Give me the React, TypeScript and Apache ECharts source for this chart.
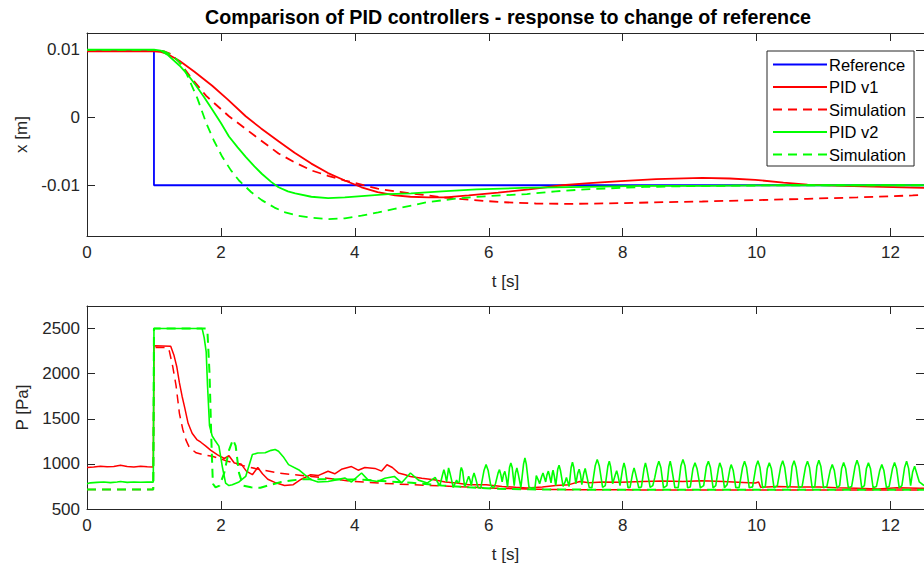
import React, { useEffect, useRef } from "react";
import * as echarts from "echarts";

// ---------- data ----------
const tTicks = [0, 2, 4, 6, 8, 10, 12];
const xTicks = [-0.01, 0, 0.01];
const pTicks = [500, 1000, 1500, 2000, 2500];

// top: position x [m] over time t [s]
const refX: [number, number][] = [[0, 0.01], [1, 0.01], [1, -0.01], [12.5, -0.01]];
const pidV1X: [number, number][] = [
  [0, 0.0098], [1.0, 0.0098], [1.1, 0.0097], [1.2, 0.0094], [1.38, 0.0084], [1.6, 0.0068], [1.87, 0.0047],
  [2.1, 0.0027], [2.37, 0.0002], [2.6, -0.0016], [2.86, -0.0035], [3.1, -0.0052], [3.35, -0.0068],
  [3.6, -0.0082], [3.85, -0.0093], [4.1, -0.0103], [4.34, -0.011], [4.6, -0.0115], [4.83, -0.0117],
  [5.1, -0.0118], [5.35, -0.0118], [5.7, -0.0115], [6.14, -0.0111], [6.6, -0.0106], [7.1, -0.01],
  [7.5, -0.0097], [7.97, -0.0094], [8.5, -0.0091], [9.19, -0.0089], [9.6, -0.009], [9.98, -0.0092],
  [10.4, -0.0096], [10.76, -0.0099], [11.3, -0.0101], [12.33, -0.01035], [12.5, -0.0104],
];
const simV1X: [number, number][] = [
  [0, 0.01], [1.0, 0.01], [1.15, 0.0098], [1.25, 0.0094], [1.38, 0.0082], [1.53, 0.0062], [1.78, 0.0032],
  [2.12, 0.0002], [2.52, -0.0028], [2.86, -0.0053], [3.1, -0.0066], [3.35, -0.0078], [3.6, -0.0086],
  [3.85, -0.0093], [4.1, -0.0099], [4.34, -0.0105], [4.6, -0.0109], [4.84, -0.0112], [5.08, -0.0115],
  [5.33, -0.0118], [5.77, -0.0122], [6.2, -0.0125], [6.7, -0.0127], [7.2, -0.01275], [7.97, -0.01265],
  [8.6, -0.0125], [9.19, -0.0124], [10.0, -0.0122], [10.76, -0.012], [11.5, -0.0118], [12.33, -0.0115],
  [12.5, -0.0114],
];
const pidV2X: [number, number][] = [
  [0, 0.01005], [1.0, 0.01005], [1.1, 0.0099], [1.2, 0.0093], [1.38, 0.0077], [1.5, 0.0064], [1.63, 0.0047],
  [1.75, 0.003], [1.87, 0.0012], [2.0, -0.0008], [2.12, -0.0028], [2.25, -0.0044], [2.37, -0.0058],
  [2.5, -0.0072], [2.61, -0.0083], [2.75, -0.0095], [2.86, -0.0103], [3.0, -0.0109], [3.11, -0.0112],
  [3.35, -0.0117], [3.6, -0.0119], [3.85, -0.0118], [4.1, -0.0116], [4.5, -0.0113], [4.84, -0.0112],
  [5.3, -0.0109], [5.82, -0.0106], [6.5, -0.0104], [7.44, -0.01025], [8.3, -0.0101], [9.19, -0.0101],
  [10.5, -0.01], [12.5, -0.01],
];
const simV2X: [number, number][] = [
  [0, 0.01], [1.0, 0.01], [1.15, 0.0098], [1.25, 0.0093], [1.35, 0.0085], [1.43, 0.0077], [1.53, 0.0055],
  [1.65, 0.0028], [1.78, -0.0008], [1.9, -0.0035], [2.02, -0.0058], [2.15, -0.0078], [2.27, -0.0093],
  [2.45, -0.011], [2.61, -0.0122], [2.8, -0.0133], [2.96, -0.014], [3.15, -0.0145], [3.35, -0.0148],
  [3.6, -0.015], [3.85, -0.0149], [4.1, -0.0145], [4.35, -0.014], [4.59, -0.0135], [4.85, -0.013],
  [5.08, -0.0125], [5.33, -0.0122], [5.58, -0.0119], [6.0, -0.0116], [6.57, -0.0113], [7.0, -0.0109],
  [7.44, -0.0106], [8.32, -0.01025], [9.2, -0.0101], [10.5, -0.01], [12.5, -0.01],
];

// bottom: pressure P [Pa] over time t [s]
const pidV1P: [number, number][] = [
  [0, 960], [0.1, 965], [0.2, 975], [0.3, 968], [0.4, 972], [0.5, 985], [0.6, 970], [0.7, 966], [0.8, 975],
  [0.9, 968], [0.99, 965], [1.0, 2310], [1.25, 2305], [1.3, 2200], [1.34, 2080], [1.38, 1900], [1.42, 1750],
  [1.46, 1620], [1.51, 1450], [1.57, 1340], [1.64, 1270], [1.7, 1240], [1.77, 1200], [1.85, 1150],
  [1.95, 1100], [2.05, 1060], [2.12, 1090], [2.2, 1010], [2.3, 1000], [2.38, 920], [2.47, 880], [2.55, 960],
  [2.62, 890], [2.7, 830], [2.82, 790], [2.95, 760], [3.08, 770], [3.2, 830], [3.34, 880], [3.45, 870],
  [3.6, 918], [3.7, 890], [3.8, 940], [3.95, 970], [4.05, 930], [4.15, 960], [4.3, 950], [4.4, 920],
  [4.48, 990], [4.56, 960], [4.65, 900], [4.75, 880], [4.83, 860], [5.0, 840], [5.18, 825], [5.35, 800],
  [5.52, 788], [5.7, 770], [5.96, 770], [6.2, 750], [6.4, 740], [6.57, 733], [6.8, 745], [7.0, 760],
  [7.2, 770], [7.36, 805], [7.5, 790], [7.7, 800], [7.97, 796], [8.3, 805], [8.6, 810], [8.9, 805],
  [9.19, 814], [9.5, 805], [9.8, 795], [9.98, 788], [10.03, 800], [10.06, 740], [10.3, 750], [10.6, 745],
  [10.94, 744], [11.2, 735], [11.5, 730], [11.81, 722], [12.1, 735], [12.43, 729], [12.5, 730],
];
const simV1P: [number, number][] = [
  [0, 715], [0.99, 715], [1.0, 2290], [1.2, 2290], [1.23, 2250], [1.28, 2080], [1.33, 1868], [1.38, 1560],
  [1.43, 1384], [1.48, 1260], [1.53, 1180], [1.63, 1123], [1.75, 1100], [1.87, 1085], [2.1, 1030],
  [2.37, 973], [2.6, 935], [2.86, 899], [3.1, 880], [3.35, 861], [3.65, 835], [3.95, 807], [4.4, 785],
  [4.83, 770], [5.3, 755], [5.7, 744], [6.1, 730], [6.57, 722], [7.0, 715], [8.0, 712], [12.5, 710],
];
const pidV2P: [number, number][] = [
  [0, 780], [0.05, 790], [0.15, 795], [0.25, 800], [0.35, 792], [0.45, 800], [0.5, 805], [0.6, 795],
  [0.7, 800], [0.8, 797], [0.9, 800], [0.99, 798], [1.0, 2500], [1.72, 2500], [1.75, 2400], [1.78, 2242],
  [1.8, 1868], [1.83, 1421], [1.87, 1309], [1.92, 1250], [1.97, 1197], [2.02, 973], [2.07, 787],
  [2.12, 760], [2.17, 768], [2.27, 800], [2.37, 861], [2.47, 1104], [2.55, 1120], [2.66, 1123],
  [2.75, 1150], [2.81, 1160], [2.86, 1141], [2.93, 1080], [3.01, 992], [3.16, 936], [3.25, 880],
  [3.35, 824], [3.45, 800], [3.6, 805], [3.7, 820], [3.85, 843], [3.95, 800], [4.1, 899], [4.2, 820],
  [4.34, 805], [4.45, 840], [4.59, 861], [4.7, 790], [4.83, 899], [4.95, 820], [5.08, 787],
  [5.2, 850], [5.24, 790], [5.27, 760], [5.31, 880], [5.33, 936], [5.35, 880], [5.37, 800], [5.39, 900],
  [5.4, 955], [5.42, 900], [5.47, 740], [5.5, 790], [5.52, 820], [5.54, 790], [5.56, 800], [5.58, 930],
  [5.59, 960], [5.61, 920], [5.64, 745], [5.67, 800], [5.7, 862], [5.72, 820], [5.74, 760], [5.76, 850],
  [5.78, 900], [5.8, 850], [5.84, 735], [5.88, 731], [5.93, 930], [5.96, 992], [5.99, 930], [6.03, 760],
  [6.07, 731], [6.1, 780], [6.14, 900], [6.16, 936], [6.18, 880], [6.2, 800], [6.22, 880], [6.24, 917],
  [6.26, 850], [6.28, 745], [6.31, 960], [6.33, 1011], [6.35, 960], [6.38, 760], [6.4, 900], [6.42, 955],
  [6.44, 890], [6.48, 738], [6.52, 1000], [6.54, 1067], [6.56, 1000], [6.6, 745], [6.64, 731], [6.69, 731],
  [6.71, 870], [6.74, 820], [6.76, 780], [6.79, 860], [6.81, 900], [6.83, 850], [6.85, 800], [6.87, 880],
  [6.89, 920], [6.91, 860], [6.93, 790], [6.95, 900], [6.96, 930], [6.98, 860], [7.0, 760], [7.03, 940],
  [7.05, 985], [7.07, 930], [7.11, 750], [7.14, 800], [7.16, 850], [7.18, 800], [7.2, 750], [7.23, 960],
  [7.25, 1020], [7.27, 960], [7.3, 780], [7.33, 900], [7.35, 940], [7.37, 880], [7.39, 770], [7.42, 900],
  [7.44, 950], [7.46, 880], [7.5, 740], [7.54, 735], [7.59, 980], [7.62, 1050], [7.65, 980], [7.7, 740],
  [7.74, 760], [7.78, 980], [7.8, 1030], [7.82, 970], [7.85, 780], [7.89, 880], [7.91, 925], [7.93, 870],
  [7.96, 760], [8.0, 950], [8.02, 1010], [8.04, 950], [8.08, 735], [8.11, 740], [8.15, 900], [8.17, 955],
  [8.19, 900], [8.24, 735], [8.28, 745], [8.32, 950], [8.34, 1010], [8.36, 950], [8.41, 740], [8.45, 760],
  [8.48, 850], [8.51, 960], [8.54, 1029], [8.57, 960], [8.61, 735], [8.66, 760], [8.69, 970], [8.71, 1029],
  [8.73, 960], [8.78, 735], [8.83, 740], [8.87, 980], [8.9, 1048], [8.93, 980], [8.97, 735], [9.01, 745],
  [9.05, 950], [9.08, 1011], [9.11, 950], [9.16, 735], [9.21, 760], [9.25, 970], [9.28, 1029], [9.31, 960],
  [9.35, 735], [9.39, 760], [9.43, 950], [9.45, 1011], [9.48, 950], [9.52, 735], [9.56, 770], [9.6, 940],
  [9.62, 992], [9.65, 930], [9.69, 735], [9.74, 740], [9.79, 960], [9.82, 1029], [9.85, 960], [9.89, 735],
  [9.94, 745], [9.99, 970], [10.02, 1035], [10.05, 960], [10.09, 735], [10.13, 750], [10.16, 950],
  [10.19, 1011], [10.22, 950], [10.26, 735], [10.31, 760], [10.36, 970], [10.39, 1035], [10.42, 960],
  [10.46, 735], [10.5, 760], [10.53, 970], [10.56, 1035], [10.59, 960], [10.63, 735], [10.68, 750],
  [10.73, 965], [10.76, 1029], [10.79, 960], [10.83, 735], [10.87, 750], [10.9, 970], [10.93, 1040],
  [10.96, 970], [11.0, 735], [11.05, 750], [11.1, 930], [11.13, 992], [11.16, 930], [11.2, 735],
  [11.24, 760], [11.27, 950], [11.3, 1015], [11.33, 950], [11.37, 735], [11.42, 750], [11.47, 970],
  [11.5, 1040], [11.53, 970], [11.57, 735], [11.61, 760], [11.64, 950], [11.67, 1011], [11.7, 950],
  [11.74, 735], [11.79, 750], [11.84, 930], [11.87, 992], [11.9, 930], [11.94, 735], [11.98, 750],
  [12.03, 950], [12.06, 1015], [12.09, 950], [12.13, 735], [12.17, 760], [12.21, 960], [12.24, 1029],
  [12.27, 950], [12.3, 760], [12.33, 910], [12.36, 973], [12.39, 900], [12.43, 800], [12.5, 760],
];
const simV2P: [number, number][] = [
  [0, 715], [0.99, 715], [1.0, 2500], [1.78, 2500], [1.8, 2450], [1.83, 2000], [1.86, 1200], [1.88, 780],
  [1.92, 740], [1.98, 760], [2.05, 900], [2.12, 1150], [2.18, 1270], [2.22, 1200], [2.27, 900], [2.33, 760],
  [2.45, 740], [2.59, 735], [2.75, 770], [2.9, 800], [3.05, 815], [3.2, 830], [3.5, 830], [3.8, 828],
  [4.13, 825], [4.5, 805], [4.85, 790], [5.3, 760], [5.7, 740], [6.1, 725], [6.6, 718], [7.0, 715],
  [12.5, 712],
];

const NAMES = ["Reference", "PID v1", "Simulation", "PID v2", "Simulation "];
const BLUE = "#0000ff";
const RED = "#ff0000";
const GREEN = "#00ff00";
const AX = "#262626";
const FONT = "'Liberation Sans', Arial, Helvetica, sans-serif";

function line(name: string, data: [number, number][], color: string, dashed: boolean, gi: number, width = 1.8) {
  return {
    type: "line",
    name,
    data,
    xAxisIndex: gi * 2,
    yAxisIndex: gi * 2,
    symbol: "none",
    showSymbol: false,
    clip: true,
    lineStyle: { color, width, type: dashed ? [9, 6] : "solid" },
    itemStyle: { color },
    emphasis: { disabled: true },
  };
}

function xAxes(gi: number) {
  const common = {
    gridIndex: gi,
    type: "value",
    min: 0,
    max: 12.5,
    splitLine: { show: false },
    axisLine: { show: true, onZero: false, lineStyle: { color: AX, width: 1 } },
    axisTick: { show: true, inside: true, length: 8, customValues: tTicks, lineStyle: { color: AX } },
  };
  return [
    {
      ...common,
      position: "bottom",
      axisLabel: {
        show: true,
        customValues: tTicks,
        formatter: (v: number) => String(v),
        fontSize: 17,
        fontFamily: FONT,
        color: AX,
        margin: 8,
      },
      name: "t [s]",
      nameLocation: "middle",
      nameGap: 37,
      nameTextStyle: { fontSize: 17, fontFamily: FONT, color: AX },
    },
    { ...common, position: "top", axisLabel: { show: false } },
  ];
}

function yAxes(gi: number, min: number, max: number, ticks: number[], name: string, fmt: (v: number) => string) {
  const common = {
    gridIndex: gi,
    type: "value",
    min,
    max,
    splitLine: { show: false },
    axisLine: { show: true, onZero: false, lineStyle: { color: AX, width: 1 } },
    axisTick: { show: true, inside: true, length: 8, customValues: ticks, lineStyle: { color: AX } },
  };
  return [
    {
      ...common,
      position: "left",
      axisLabel: { show: true, customValues: ticks, formatter: fmt, fontSize: 17, fontFamily: FONT, color: AX, margin: 7 },
      name,
      nameLocation: "middle",
      nameGap: 56,
      nameRotate: 90,
      nameTextStyle: { fontSize: 17, fontFamily: FONT, color: AX },
    },
    { ...common, position: "right", axisLabel: { show: false } },
  ];
}

export default function App() {
  const ref = useRef<HTMLDivElement>(null);
  useEffect(() => {
    if (!ref.current) return;
    const chart = echarts.init(ref.current, undefined, { renderer: "svg" });
    chart.setOption({
      animation: false,
      backgroundColor: "#ffffff",
      textStyle: { fontFamily: FONT },
      graphic: [
        {
          type: "text",
          x: 508,
          y: 17,
          style: {
            text: "Comparison of PID controllers - response to change of reference",
            font: `bold 19.7px ${FONT}`,
            fill: "#000",
            textAlign: "center",
            textVerticalAlign: "middle",
          },
        },
      ],
      grid: [
        { left: 87, top: 33, width: 844, height: 203 },
        { left: 87, top: 306, width: 844, height: 203 },
      ],
      xAxis: [...xAxes(0), ...xAxes(1)],
      yAxis: [
        ...yAxes(0, -0.0175, 0.0125, xTicks, "x [m]", (v: number) => (Math.abs(v) < 1e-9 ? "0" : v.toFixed(2))),
        ...yAxes(1, 500, 2750, pTicks, "P [Pa]", (v: number) => String(v)),
      ],
      legend: {
        data: NAMES,
        orient: "vertical",
        left: 767,
        top: 51,
        itemWidth: 54,
        itemHeight: 14,
        itemGap: 5.5,
        padding: [5, 8, 3, 5],
        borderColor: AX,
        borderWidth: 1,
        backgroundColor: "#ffffff",
        selectedMode: false,
        itemStyle: { opacity: 0, borderWidth: 0 },
        formatter: (n: string) => n.trim(),
        textStyle: { fontSize: 16.5, fontFamily: FONT, color: "#000", padding: [0, 0, 0, -3] },
      },
      series: [
        line(NAMES[0], refX, BLUE, false, 0),
        line(NAMES[1], pidV1X, RED, false, 0),
        line(NAMES[2], simV1X, RED, true, 0),
        line(NAMES[3], pidV2X, GREEN, false, 0),
        line(NAMES[4], simV2X, GREEN, true, 0),
        line(NAMES[1], pidV1P, RED, false, 1, 1.5),
        line(NAMES[2], simV1P, RED, true, 1, 1.5),
        line(NAMES[3], pidV2P, GREEN, false, 1, 1.6),
        line(NAMES[4], simV2P, GREEN, true, 1, 2),
      ],
    });
    return () => chart.dispose();
  }, []);
  return <div ref={ref} style={{ position: "fixed", left: 0, top: 0, width: 924, height: 569 }} />;
}
